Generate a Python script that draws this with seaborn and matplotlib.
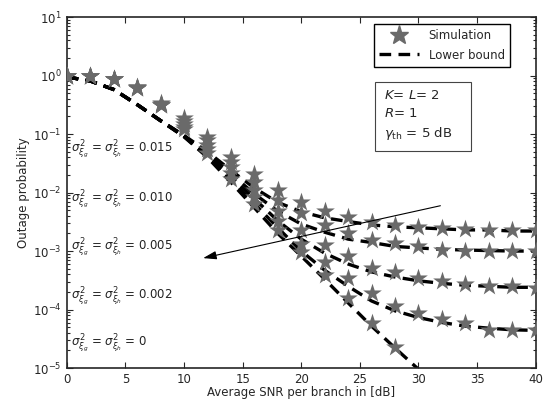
import numpy as np
import pandas as pd
import matplotlib
matplotlib.use("Agg")
import matplotlib.pyplot as plt
from matplotlib.lines import Line2D
from matplotlib.ticker import NullFormatter
import seaborn as sns

snr = list(range(0, 42, 2))
nan = np.nan

# Simulation values (stars)
sim_015 = [1.0, 0.98, 0.87, 0.63, 0.34, 0.19, 0.090, 0.041, 0.021, 0.011, 0.0069, 0.0048, 0.0038, 0.0032, 0.0028, 0.0026, 0.0025, 0.0024, 0.0023, 0.0023, 0.0023]
sim_010 = [1.0, 0.98, 0.87, 0.63, 0.33, 0.17, 0.078, 0.033, 0.015, 0.0075, 0.0044, 0.0028, 0.0020, 0.00155, 0.0014, 0.00122, 0.00106, 0.00102, 0.00101, 0.0010, 0.0010]
sim_005 = [1.0, 0.98, 0.87, 0.62, 0.32, 0.15, 0.065, 0.027, 0.011, 0.0048, 0.0023, 0.00126, 0.00081, 0.00052, 0.00044, 0.00034, 0.00031, 0.00027, 0.000255, 0.00025, 0.000237]
sim_002 = [1.0, 0.97, 0.86, 0.62, 0.31, 0.13, 0.055, 0.022, 0.0085, 0.0033, 0.00134, 0.00065, 0.00035, 0.00019, 0.000114, 8.7e-5, 7.0e-5, 5.9e-5, 4.5e-5, 4.4e-5, 4.4e-5]
sim_000 = [1.0, 0.97, 0.86, 0.62, 0.31, 0.12, 0.047, 0.0174, 0.0065, 0.0023, 0.00097, 0.000385, 0.00016, 5.9e-5, 2.3e-5, nan, nan, nan, nan, nan, nan]

# Lower bound values (dashed)
bnd_015 = [0.95, 0.81, 0.58, 0.32, 0.17, 0.095, 0.050, 0.024, 0.012, 0.0068, 0.0047, 0.0037, 0.0032, 0.0028, 0.0026, 0.0025, 0.0024, 0.0023, 0.0023, 0.0022, 0.0022]
bnd_010 = [0.95, 0.81, 0.58, 0.32, 0.17, 0.093, 0.047, 0.021, 0.0095, 0.0048, 0.0029, 0.0021, 0.0016, 0.0014, 0.0012, 0.00113, 0.00107, 0.00104, 0.00102, 0.0010, 0.0010]
bnd_005 = [0.95, 0.81, 0.58, 0.32, 0.17, 0.092, 0.044, 0.019, 0.0078, 0.0033, 0.0016, 0.00092, 0.00060, 0.00044, 0.00036, 0.00031, 0.00028, 0.00026, 0.00025, 0.00024, 0.00024]
bnd_002 = [0.95, 0.81, 0.58, 0.32, 0.17, 0.091, 0.042, 0.017, 0.0065, 0.0025, 0.0010, 0.00047, 0.00025, 0.00014, 9.5e-5, 7.3e-5, 6.0e-5, 5.2e-5, 4.8e-5, 4.5e-5, 4.4e-5]
bnd_000 = [0.95, 0.81, 0.58, 0.32, 0.17, 0.090, 0.040, 0.015, 0.0055, 0.0020, 0.00082, 0.00033, 0.00013, 5.2e-5, 2.2e-5, 9.5e-6, 4.0e-6, nan, nan, nan, nan]

variances = ["0.015", "0.010", "0.005", "0.002", "0"]
sims = [sim_015, sim_010, sim_005, sim_002, sim_000]
bnds = [bnd_015, bnd_010, bnd_005, bnd_002, bnd_000]
x_ticks = [0, 5, 10, 15, 20, 25, 30, 35, 40]

rows_s, rows_b = [], []
for v, s, b in zip(variances, sims, bnds):
    for xx, ys, yb in zip(snr, s, b):
        rows_s.append((v, xx, ys))
        rows_b.append((v, xx, yb))
df_s = pd.DataFrame(rows_s, columns=["var", "snr", "p"]).dropna()
df_b = pd.DataFrame(rows_b, columns=["var", "snr", "p"]).dropna()

sns.set_style("ticks")
plt.rcParams["font.family"] = ["DejaVu Sans"]
plt.rcParams["xtick.direction"] = "in"
plt.rcParams["ytick.direction"] = "in"

fig = plt.figure(figsize=(5.54, 4.08), dpi=100)
ax = fig.add_axes([0.1205, 0.098, 0.8465, 0.860])

star_color = "#6a6a6a"
dash = (0, (3.5, 2.2))
for v in variances:
    sub = df_b[df_b["var"] == v]
    sns.lineplot(data=sub, x="snr", y="p", ax=ax, color="black", lw=2.4,
                 linestyle=dash, estimator=None, legend=False, zorder=2)
sns.scatterplot(data=df_s, x="snr", y="p", ax=ax, color=star_color, marker="*",
                s=200, linewidth=0, legend=False, zorder=3)

ax.set_yscale("log")
ax.set_xlim(0, 40)
ax.set_ylim(1e-5, 10)
ax.set_xticks(x_ticks)
ax.yaxis.set_minor_formatter(NullFormatter())
ax.tick_params(which="both", top=True, right=True, labelsize=8.5, length=4, width=0.8)
ax.tick_params(which="minor", length=2)
for sp in ax.spines.values():
    sp.set_linewidth(1.2)
ax.set_xlabel("Average SNR per branch in [dB]", fontsize=8.5, labelpad=0)
ax.set_ylabel("Outage probability", fontsize=8.5, labelpad=2)

# variance labels
label_y = [10**-1.275, 10**-2.13, 10**-2.95, 10**-3.79, 10**-4.58]
for v, yy in zip(variances, label_y):
    ax.text(0.4, yy, r"$\sigma^2_{\xi_g}$ = $\sigma^2_{\xi_h}$ = " + v,
            fontsize=8.5, va="center", ha="left", color="#222222")

ax.annotate("", xy=(11.4, 7.4e-4), xytext=(32.1, 6.1e-3),
            arrowprops=dict(arrowstyle="-|>,head_length=0.8,head_width=0.25",
                            color="black", lw=0.8))

handles = [Line2D([], [], color=star_color, marker="*", ms=14, linestyle="none"),
           Line2D([], [], color="black", lw=2.4, linestyle=dash)]
leg = ax.legend(handles, ["Simulation", "Lower bound"], loc="upper right",
                bbox_to_anchor=(0.958, 0.998), fontsize=8.5, frameon=True,
                fancybox=False, edgecolor="black", framealpha=1,
                handlelength=3.4, borderpad=0.45, labelspacing=0.55)
leg.get_frame().set_linewidth(1.0)

ax.text(0.676, 0.795, "$K$= $L$= 2\n$R$= 1\n" + r"$\gamma_{\mathrm{th}}$ = 5 dB   ",
        transform=ax.transAxes, fontsize=9.5, va="top", ha="left",
        linespacing=1.45,
        bbox=dict(boxstyle="square,pad=0.7", fc="white", ec="#444444", lw=0.8))

fig.savefig("out.png", dpi=100)
